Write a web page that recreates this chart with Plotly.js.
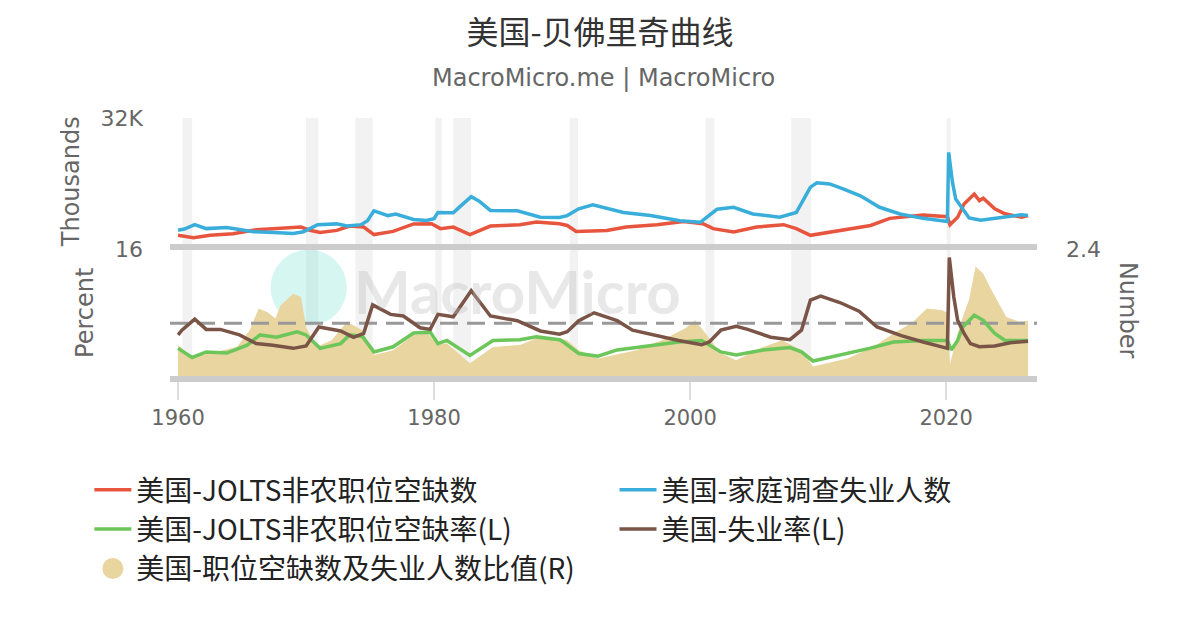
<!DOCTYPE html>
<html>
<head>
<meta charset="utf-8">
<script src="https://cdn.plot.ly/plotly-3.0.1.min.js"></script>
<style>
  html, body { margin: 0; padding: 0; background: #fff; }
  #chart { width: 1200px; height: 630px; }
</style>
</head>
<body>
<div id="chart"></div>
<script>
// JOLTS job openings (thousands)
let openDates = [1960.0, 1961.2, 1962.5, 1964.3, 1966.1, 1967.5, 1969.0, 1969.6, 1970.3, 1971.1, 1972.4, 1973.4, 1974.5, 1975.3, 1976.8, 1978.4, 1979.8, 1980.5, 1981.5, 1982.8, 1984.4, 1986.7, 1988.0, 1989.8, 1990.4, 1991.1, 1993.5, 1995.0, 1997.4, 1999.5, 2001.0, 2001.8, 2003.4, 2005.2, 2007.3, 2008.3, 2009.4, 2011.2, 2014.1, 2015.6, 2018.2, 2020.1, 2020.3, 2020.9, 2021.4, 2022.2, 2022.6, 2022.9, 2023.8, 2024.6, 2025.9, 2026.4];
let openVals = [2300, 1700, 2300, 2700, 3700, 3900, 4150, 4400, 3600, 3000, 3550, 4650, 4400, 2500, 3300, 5200, 5250, 4000, 4400, 2500, 4650, 5000, 5650, 5250, 4800, 3300, 3550, 4400, 5000, 5800, 5250, 4000, 3150, 4400, 5000, 4000, 2300, 3300, 4800, 6600, 7450, 7000, 5000, 6900, 10250, 12750, 11100, 11700, 9000, 7750, 6900, 7300];

// Household survey unemployed (thousands)
let unempDates = [1960.0, 1960.5, 1961.3, 1962.2, 1963.8, 1965.0, 1965.9, 1967.5, 1969.0, 1969.8, 1970.9, 1972.4, 1973.2, 1974.3, 1974.8, 1975.3, 1976.4, 1977.0, 1978.4, 1979.4, 1980.0, 1980.3, 1981.5, 1982.0, 1982.9, 1983.5, 1984.4, 1986.5, 1988.3, 1989.8, 1990.4, 1991.3, 1992.4, 1994.8, 1996.9, 1999.2, 2000.8, 2002.1, 2003.4, 2004.9, 2007.0, 2008.3, 2009.4, 2009.9, 2010.9, 2012.0, 2013.3, 2014.8, 2016.4, 2018.2, 2020.1, 2020.2, 2020.5, 2020.75, 2021.3, 2021.8, 2022.7, 2024.3, 2025.9, 2026.4];
let unempVals = [3600, 3900, 5000, 4000, 4300, 3700, 3200, 3000, 2750, 3200, 5000, 5200, 4650, 5000, 6000, 8500, 7300, 7700, 6300, 6050, 6500, 8100, 8000, 9500, 12100, 11000, 8600, 8500, 6900, 6800, 7300, 9000, 10000, 8100, 7300, 6000, 5600, 8900, 9400, 7700, 6900, 8100, 14500, 15600, 15300, 14000, 12300, 9400, 7700, 6600, 5800, 23300, 15700, 11500, 9000, 6700, 6100, 6900, 7500, 7300];

// JOLTS job openings rate (%)
let rateDates = [1960.0, 1961.1, 1962.2, 1963.8, 1965.4, 1966.4, 1967.7, 1969.3, 1970.0, 1971.1, 1972.7, 1973.4, 1974.4, 1975.3, 1976.8, 1978.4, 1979.7, 1980.3, 1981.0, 1982.8, 1984.6, 1986.7, 1988.0, 1989.8, 1990.1, 1991.3, 1992.8, 1994.3, 1996.7, 1999.1, 2000.9, 2002.4, 2003.6, 2005.7, 2007.8, 2008.7, 2009.6, 2011.7, 2014.0, 2015.9, 2018.2, 2020.1, 2020.4, 2020.9, 2021.3, 2022.2, 2022.9, 2023.8, 2024.6, 2026.4];
let rateVals = [3.5, 2.35, 3.05, 2.9, 3.9, 5.2, 4.9, 5.6, 5.2, 3.5, 4.1, 5.2, 5.0, 3.05, 3.7, 5.45, 5.55, 4.1, 4.5, 2.6, 4.5, 4.6, 4.95, 4.6, 4.3, 2.85, 2.5, 3.3, 3.8, 4.3, 4.5, 3.05, 2.65, 3.3, 3.6, 3.05, 1.9, 2.65, 3.5, 4.3, 4.5, 4.5, 3.3, 4.5, 6.2, 7.7, 7.05, 5.4, 4.5, 4.5];

// Unemployment rate (%)
let urDates = [1960.0, 1960.3, 1961.3, 1962.2, 1963.3, 1964.8, 1966.1, 1967.4, 1969.0, 1970.0, 1971.0, 1972.7, 1973.7, 1974.5, 1975.2, 1976.6, 1977.6, 1978.9, 1979.7, 1980.3, 1981.5, 1982.9, 1984.4, 1986.5, 1988.3, 1989.8, 1990.4, 1991.3, 1992.5, 1994.3, 1995.5, 1997.3, 1999.1, 2000.9, 2001.5, 2002.4, 2003.6, 2004.5, 2006.3, 2007.8, 2008.7, 2009.4, 2010.2, 2011.7, 2013.2, 2014.6, 2016.5, 2018.2, 2020.1, 2020.25, 2020.6, 2020.9, 2021.4, 2021.9, 2022.6, 2023.8, 2025.0, 2026.4];
let urVals = [5.2, 5.8, 7.2, 5.9, 5.9, 5.2, 4.1, 3.9, 3.5, 3.8, 6.2, 5.7, 4.9, 5.4, 9.0, 7.8, 7.6, 6.1, 5.9, 7.8, 7.5, 10.8, 7.6, 7.0, 5.7, 5.3, 5.6, 7.0, 8.0, 7.0, 5.8, 5.1, 4.5, 3.95, 4.3, 5.8, 6.3, 5.9, 4.9, 4.6, 5.8, 9.6, 10.1, 9.3, 8.2, 6.2, 5.1, 4.3, 3.5, 15.0, 10.0, 7.05, 5.4, 4.1, 3.7, 3.8, 4.2, 4.4];

// Job openings / unemployed ratio (right axis)
let ratioDates = [1960.0, 1961.1, 1963.0, 1964.6, 1965.6, 1966.3, 1967.0, 1967.6, 1968.0, 1969.0, 1969.6, 1970.0, 1970.8, 1972.0, 1973.2, 1974.4, 1975.3, 1976.8, 1978.4, 1979.5, 1980.3, 1981.0, 1982.8, 1984.6, 1986.7, 1988.0, 1989.8, 1990.4, 1991.3, 1992.8, 1995.8, 1997.8, 1999.6, 2000.4, 2001.2, 2002.4, 2003.6, 2005.7, 2007.2, 2008.7, 2009.6, 2012.3, 2014.3, 2016.1, 2017.3, 2018.5, 2019.7, 2020.1, 2020.3, 2020.9, 2021.4, 2021.8, 2022.3, 2022.9, 2023.7, 2024.7, 2025.7, 2026.4];
let ratioVals = [0.59, 0.36, 0.46, 0.55, 0.87, 1.28, 1.21, 1.09, 1.34, 1.56, 1.5, 0.93, 0.55, 0.68, 1.03, 0.87, 0.40, 0.49, 0.78, 0.81, 0.59, 0.62, 0.24, 0.55, 0.59, 0.71, 0.72, 0.68, 0.49, 0.33, 0.49, 0.68, 0.9, 1.06, 0.81, 0.43, 0.30, 0.55, 0.68, 0.49, 0.18, 0.33, 0.55, 0.84, 1.0, 1.28, 1.25, 1.2, 0.22, 0.81, 1.19, 1.45, 2.08, 1.94, 1.56, 1.12, 1.03, 1.05];
let ratioRef = 1;

// US recessions (shaded)
let recStart = [1960.35, 1970.0, 1973.85, 1980.1, 1981.5, 1990.6, 2001.2, 2007.9, 2020.05];
let recEnd = [1961.1, 1970.95, 1975.2, 1980.6, 1982.9, 1991.25, 2001.9, 2009.45, 2020.35];

let xRange = [1959.37, 2027.1];
let xTicks = [1960, 1980, 2000, 2020];

let names = [
  "美国-JOLTS非农职位空缺数",
  "美国-家庭调查失业人数",
  "美国-JOLTS非农职位空缺率(L)",
  "美国-失业率(L)",
  "美国-职位空缺数及失业人数比值(R)"
];

let tan = "#e8d5a0";
let latin = "DejaVu Sans, Noto Sans CJK SC, sans-serif";
let cjk = "Noto Sans CJK SC, DejaVu Sans, sans-serif";

// ratio area sits on the base axis so it is drawn under the lines
let traceRatio = {
  x: ratioDates, y: ratioVals, xaxis: "x", yaxis: "y",
  type: "scatter", mode: "none", fill: "tozeroy", fillcolor: tan,
  showlegend: false, hoverinfo: "skip"
};
let traceRef = {
  x: xRange, y: [ratioRef, ratioRef], xaxis: "x", yaxis: "y",
  type: "scatter", mode: "lines", line: {color: "#999", width: 3, dash: "18px,9px"},
  showlegend: false, hoverinfo: "skip"
};
let traceOpen = {
  x: openDates, y: openVals, xaxis: "x2", yaxis: "y2", name: names[0], legend: "legend",
  type: "scatter", mode: "lines", line: {color: "#e8553e", width: 3.5}
};
let traceUnemp = {
  x: unempDates, y: unempVals, xaxis: "x2", yaxis: "y2", name: names[1], legend: "legend2",
  type: "scatter", mode: "lines", line: {color: "#3aaedb", width: 3.5}
};
let traceRate = {
  x: rateDates, y: rateVals, xaxis: "x", yaxis: "y3", name: names[2], legend: "legend",
  type: "scatter", mode: "lines", line: {color: "#6cc65a", width: 3.5}
};
let traceUR = {
  x: urDates, y: urVals, xaxis: "x", yaxis: "y3", name: names[3], legend: "legend2",
  type: "scatter", mode: "lines", line: {color: "#7a5547", width: 3.5}
};
let traceRatioKey = {
  x: [null], y: [null], xaxis: "x", yaxis: "y", name: names[4], legend: "legend",
  type: "scatter", mode: "markers",
  marker: {symbol: "circle", size: 16, color: tan, line: {color: tan, width: 5}}
};

let data = [traceRatio, traceRef, traceOpen, traceUnemp, traceRate, traceUR, traceRatioKey];

let shapes = [];
for (let i = 0; i < recStart.length; i++) {
  shapes.push({
    type: "rect", xref: "x", yref: "paper",
    x0: recStart[i], x1: recEnd[i], y0: 0, y1: 1,
    fillcolor: "#f2f2f2", line: {width: 0}, layer: "below"
  });
}
// watermark circle
shapes.push({
  type: "circle", xref: "paper", yref: "paper",
  x0: 0.116, x1: 0.204, y0: 0.195, y1: 0.49,
  fillcolor: "rgba(120,225,210,0.3)", line: {width: 0}, layer: "below"
});

let legendBase = {
  orientation: "v", xanchor: "left", y: -0.345, yanchor: "top",
  font: {family: cjk, size: 28, color: "#222"},
  itemwidth: 37, traceorder: "normal", bgcolor: "rgba(0,0,0,0)"
};

let layout = {
  width: 1200, height: 630,
  paper_bgcolor: "#fff", plot_bgcolor: "rgba(0,0,0,0)",
  margin: {l: 170, r: 163, t: 118, b: 254, autoexpand: false},
  title: {
    text: "美国-贝佛里奇曲线",
    font: {family: cjk, size: 32, color: "#333"},
    x: 0.5, xanchor: "center", y: 0.948, yanchor: "middle"
  },
  showlegend: true,
  legend: Object.assign({}, legendBase, {x: -0.093}),
  legend2: Object.assign({}, legendBase, {x: 0.5127}),
  xaxis: {
    domain: [0, 1], anchor: "y", range: xRange,
    tickvals: xTicks, ticks: "outside", ticklen: 18, tickwidth: 2, tickcolor: "#ddd",
    tickfont: {family: latin, size: 21, color: "#666"},
    showgrid: false, zeroline: false,
    showline: true, linecolor: "#ccc", linewidth: 6
  },
  xaxis2: {
    domain: [0, 1], anchor: "y2", matches: "x", range: xRange,
    showticklabels: false, ticks: "", showgrid: false, zeroline: false,
    showline: true, linecolor: "#ccc", linewidth: 6
  },
  yaxis: {
    domain: [0, 0.49], anchor: "x", side: "right", range: [0, 2.4],
    tickvals: [2.4], ticks: "", ticklabelstandoff: 28,
    tickfont: {family: latin, size: 22, color: "#666"},
    showgrid: false, zeroline: false, showline: false
  },
  yaxis2: {
    domain: [0.51, 1], anchor: "x2", range: [0, 32000],
    tickvals: [32000], ticktext: ["32K"], ticks: "", ticklabelstandoff: 26,
    tickfont: {family: latin, size: 22, color: "#666"},
    showgrid: true, gridcolor: "#e6e6e6", gridwidth: 2, zeroline: false,
    title: {text: "Thousands", font: {family: latin, size: 24, color: "#666"}, standoff: 14}
  },
  yaxis3: {
    overlaying: "y", anchor: "x", side: "left", range: [0, 16],
    tickvals: [16], ticks: "", ticklabelstandoff: 26,
    tickfont: {family: latin, size: 22, color: "#666"},
    showgrid: false, zeroline: false,
    title: {text: "Percent", font: {family: latin, size: 24, color: "#666"}, standoff: 14}
  },
  shapes: shapes,
  annotations: [
    {
      text: "MacroMicro.me | MacroMicro", xref: "paper", yref: "paper",
      x: 0.5, y: 1.155, xanchor: "center", yanchor: "middle", showarrow: false,
      font: {family: latin, size: 24, color: "#666"}
    },
    {
      text: "Number", xref: "paper", yref: "paper", textangle: 90,
      x: 1.105, y: 0.256, xanchor: "center", yanchor: "middle", showarrow: false,
      font: {family: latin, size: 24, color: "#666"}
    },
    {
      text: "MacroMicro", xref: "paper", yref: "paper",
      x: 0.401, y: 0.33, xanchor: "center", yanchor: "middle", showarrow: false,
      font: {family: "Lato, Open Sans, sans-serif", size: 60, color: "rgba(190,190,190,0.35)", weight: 700}
    }
  ]
};

Plotly.newPlot("chart", data, layout, {displayModeBar: false, staticPlot: true});
</script>
</body>
</html>
